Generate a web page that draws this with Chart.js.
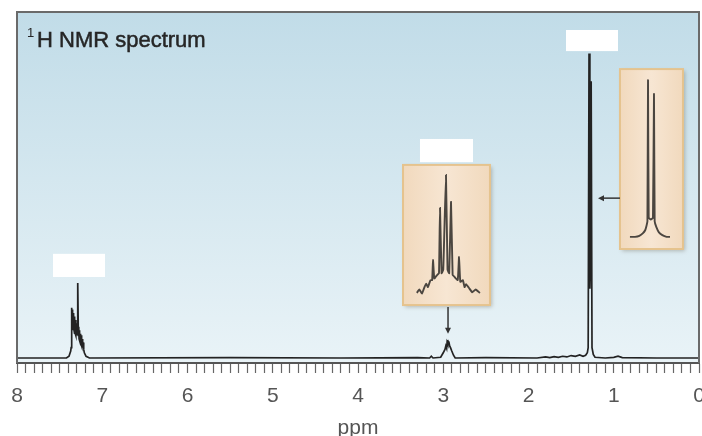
<!DOCTYPE html>
<html><head><meta charset="utf-8">
<script src="https://cdn.jsdelivr.net/npm/chart.js@4.4.0/dist/chart.umd.min.js"></script>
<style>html,body{margin:0;padding:0;background:#fff}#wrap{position:relative;width:702px;height:436px}</style>
</head><body><div id="wrap"><canvas id="c" width="702" height="436"></canvas></div>
<script>
// Main 1H NMR spectrum (chemical shift in ppm, relative intensity)
const ppm = [8.0, 7.42, 7.39, 7.37,
  7.365, 7.36, 7.357, 7.354, 7.351, 7.348, 7.345, 7.342, 7.338, 7.335, 7.331, 7.328, 7.324, 7.32, 7.316, 7.312, 7.308, 7.304, 7.30, 7.296, 7.29,
  7.285, 7.28, 7.276, 7.272, 7.268, 7.264, 7.26, 7.256, 7.252, 7.248, 7.244, 7.24, 7.235, 7.23, 7.225, 7.22, 7.215, 7.21, 7.19, 7.15,
  5.5, 4.2, 3.3, 3.16, 3.14, 3.12,
  3.03, 3.0, 2.98, 2.97, 2.96, 2.955, 2.95, 2.945, 2.94, 2.935, 2.925, 2.915, 2.90, 2.88, 2.86,
  2.5, 1.9, 1.8, 1.75, 1.7, 1.65, 1.6, 1.55, 1.5, 1.45, 1.4, 1.36,
  1.33, 1.31, 1.30, 1.29, 1.28, 1.275, 1.265, 1.255, 1.24, 1.22,
  1.1, 1.0, 0.95, 0.9, 0.5, 0.0];
const intensity = [0, 0, 0.5, 2,
  3, 14.5, 9, 14, 8, 13.5, 9, 13, 8, 12.5, 8, 12, 7, 11.5, 7, 11, 6.5, 10, 6.5, 9.5, 7,
  21.7, 6.5, 9, 5.5, 8, 5, 7, 4.5, 6.6, 4, 6.6, 3.5, 5.5, 3, 4.5, 3.8, 2.5, 1.5, 0.5, 0,
  0.1, 0, 0.1, 0, 0.5, 0,
  0.2, 1.5, 2.5, 3.5, 2.8, 4.5, 4, 5.2, 4.2, 4.8, 3.5, 3, 2, 0.8, 0,
  0.1, 0, 0.3, 0.1, 0.4, 0.2, 0.5, 0.3, 0.7, 0.5, 0.9, 0.5,
  0.8, 1.5, 3, 88, 20, 25, 80, 3, 1, 0.2,
  0, 0.2, 0.5, 0.1, 0, 0];

// Expanded septet inset trace (placed in main-chart units)
const septetPpm = [3.31, 3.28, 3.25, 3.22, 3.20, 3.18, 3.15, 3.13, 3.12, 3.105, 3.07, 3.05, 3.038, 3.02, 3.0, 2.968, 2.95, 2.93, 2.909, 2.89, 2.87, 2.83, 2.815, 2.80, 2.77, 2.75, 2.733, 2.70, 2.66, 2.62, 2.57];
const septetInt = [18.8, 19.8, 18.6, 20.5, 21.5, 20.5, 22.5, 22.5, 28.3, 23, 24, 24.5, 43.4, 24.5, 25.5, 52.9, 25.5, 24.5, 45.1, 24, 23.5, 22.5, 29.2, 22, 22.5, 20.5, 21.3, 20.3, 19.0, 19.8, 18.8];

// Expanded doublet inset trace
const doubletPpm = [0.81, 0.75, 0.70, 0.66, 0.63, 0.615, 0.605, 0.598, 0.59, 0.565, 0.54, 0.528, 0.52, 0.50, 0.47, 0.43, 0.38, 0.34];
const doubletInt = [35.0, 35.0, 35.3, 36.0, 37.0, 38.3, 39.5, 80.3, 40.5, 40, 40.5, 76.3, 39.5, 37.8, 36.3, 35.5, 35.0, 35.0];

// Axis ticks
const tickMin = 0, tickMax = 8, tickStep = 0.1;

// Annotation boxes (blank white labels, inset frames) and arrows, in data units
const labelX0 = [7.578, 3.273, 1.560], labelX1 = [6.968, 2.651, 0.950];
const labelYTop = [30.1, 63.3, 94.8], labelYBot = [23.4, 56.6, 88.7];
const insetX0 = [3.472, 0.927], insetX1 = [2.452, 0.188];
const insetYTop = [55.8, 83.5], insetYBot = [15.3, 31.5];
const arrowX0 = [2.944, 0.927], arrowY0 = [14.7, 46.2];
const arrowX1 = [2.944, 1.185], arrowY1 = [7.0, 46.2];

const toXY = (xs, ys) => xs.map((v, i) => ({x: v, y: ys[i]}));

const decor = {
  id: 'decor',
  beforeDraw(chart) {
    const {ctx, chartArea: a} = chart;
    ctx.save();
    const g = ctx.createLinearGradient(0, a.top, 0, a.bottom);
    g.addColorStop(0, '#c1dce8');
    g.addColorStop(1, '#e9f3f7');
    ctx.fillStyle = g;
    ctx.fillRect(a.left, a.top, a.right - a.left, a.bottom - a.top);
    ctx.restore();
  },
  beforeDatasetsDraw(chart) {
    const {ctx, scales: {x, y}} = chart;
    ctx.save();
    ctx.fillStyle = '#ffffff';
    for (let i = 0; i < labelX0.length; i++) {
      const l = x.getPixelForValue(labelX0[i]), r = x.getPixelForValue(labelX1[i]);
      const t = y.getPixelForValue(labelYTop[i]), b = y.getPixelForValue(labelYBot[i]);
      ctx.fillRect(l, t, r - l, b - t);
    }
    for (let i = 0; i < insetX0.length; i++) {
      const l = x.getPixelForValue(insetX0[i]), r = x.getPixelForValue(insetX1[i]);
      const t = y.getPixelForValue(insetYTop[i]), b = y.getPixelForValue(insetYBot[i]);
      ctx.save();
      ctx.shadowColor = 'rgba(90,80,60,0.35)';
      ctx.shadowBlur = 4; ctx.shadowOffsetX = 2; ctx.shadowOffsetY = 2;
      const g = ctx.createLinearGradient(l, 0, r, 0);
      g.addColorStop(0, '#f1d9bd'); g.addColorStop(0.5, '#f7e6d3'); g.addColorStop(1, '#f1d9bd');
      ctx.fillStyle = g;
      ctx.fillRect(l, t, r - l, b - t);
      ctx.restore();
      ctx.strokeStyle = '#e5c38e';
      ctx.lineWidth = 2;
      ctx.strokeRect(l, t, r - l, b - t);
    }
    ctx.strokeStyle = '#333';
    ctx.fillStyle = '#333';
    ctx.lineWidth = 1.5;
    for (let i = 0; i < arrowX0.length; i++) {
      const x0 = x.getPixelForValue(arrowX0[i]), y0 = y.getPixelForValue(arrowY0[i]);
      const x1 = x.getPixelForValue(arrowX1[i]), y1 = y.getPixelForValue(arrowY1[i]);
      const ang = Math.atan2(y1 - y0, x1 - x0);
      ctx.beginPath(); ctx.moveTo(x0, y0);
      ctx.lineTo(x1 - 4 * Math.cos(ang), y1 - 4 * Math.sin(ang)); ctx.stroke();
      ctx.beginPath();
      ctx.moveTo(x1, y1);
      ctx.lineTo(x1 - 6 * Math.cos(ang) + 3 * Math.sin(ang), y1 - 6 * Math.sin(ang) - 3 * Math.cos(ang));
      ctx.lineTo(x1 - 6 * Math.cos(ang) - 3 * Math.sin(ang), y1 - 6 * Math.sin(ang) + 3 * Math.cos(ang));
      ctx.closePath(); ctx.fill();
    }
    ctx.restore();
  },
  afterDraw(chart) {
    const {ctx, chartArea: a} = chart;
    ctx.save();
    ctx.strokeStyle = '#6a6a6a';
    ctx.lineWidth = 2;
    ctx.beginPath();
    ctx.moveTo(a.left, a.bottom);
    ctx.lineTo(a.left, a.top);
    ctx.lineTo(a.right, a.top);
    ctx.lineTo(a.right, a.bottom);
    ctx.stroke();
    ctx.fillStyle = '#262626';
    ctx.strokeStyle = '#262626';
    ctx.lineWidth = 0.5;
    ctx.textBaseline = 'alphabetic';
    ctx.font = '13px "Liberation Sans", Arial, sans-serif';
    ctx.fillText('1', a.left + 10, a.top + 25);
    ctx.font = '22px "Liberation Sans", Arial, sans-serif';
    ctx.fillText('H NMR spectrum', a.left + 20, a.top + 35);
    ctx.strokeText('H NMR spectrum', a.left + 20, a.top + 35);
    ctx.restore();
  }
};

new Chart(document.getElementById('c'), {
  type: 'scatter',
  data: {
    datasets: [
      {data: toXY(ppm, intensity), showLine: true, borderColor: '#232323', borderWidth: 1.7, pointRadius: 0, tension: 0},
      {data: toXY(septetPpm, septetInt), showLine: true, borderColor: '#4b4640', borderWidth: 1.9, pointRadius: 0, tension: 0.1},
      {data: toXY(doubletPpm, doubletInt), showLine: true, borderColor: '#4b4640', borderWidth: 1.9, pointRadius: 0, tension: 0.1}
    ]
  },
  options: {
    responsive: false,
    animation: false,
    layout: {padding: {left: 17, right: 3, top: 12, bottom: 0}},
    plugins: {legend: {display: false}, tooltip: {enabled: false}},
    scales: {
      x: {
        type: 'linear', reverse: true, min: tickMin, max: tickMax,
        afterFit: s => { s.paddingLeft = 0; s.paddingRight = 0; s.height = 73; },
        ticks: {
          stepSize: tickStep, autoSkip: false, maxRotation: 0, padding: 11,
          color: '#555', font: {family: '"Liberation Sans", Arial, sans-serif', size: 21},
          callback: v => Math.abs(v - Math.round(v)) < 1e-6 ? String(Math.round(v)) : ''
        },
        grid: {display: true, drawOnChartArea: false, drawTicks: true, tickLength: 10, tickColor: '#666', tickWidth: 1.2},
        border: {display: true, color: '#555', width: 2},
        title: {display: true, text: 'ppm', color: '#555', font: {family: '"Liberation Sans", Arial, sans-serif', size: 21, lineHeight: 1}, padding: {top: 0, bottom: -3}}
      },
      y: {type: 'linear', min: -1.45, max: 100, display: false}
    }
  },
  plugins: [decor]
});
</script>
</body></html>
